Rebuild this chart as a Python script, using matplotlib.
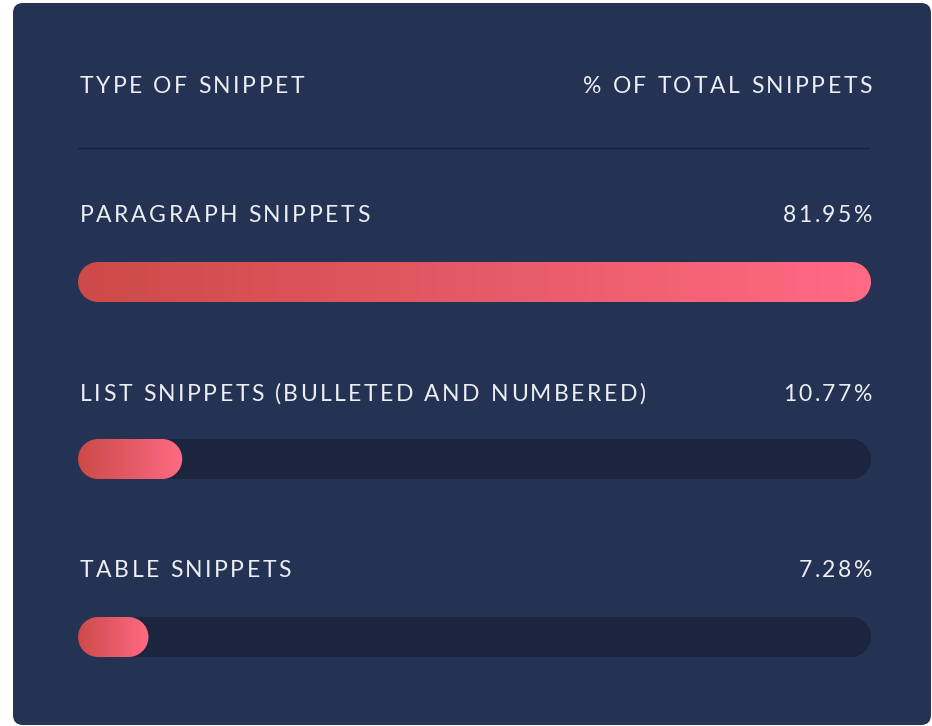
import numpy as np
import matplotlib.pyplot as plt
from matplotlib.patches import FancyBboxPatch, Polygon
from matplotlib.colors import LinearSegmentedColormap

# データ
header_left = 'TYPE OF SNIPPET'
header_right = '% OF TOTAL SNIPPETS'
categories = ['PARAGRAPH SNIPPETS', 'LIST SNIPPETS (BULLETED AND NUMBERED)', 'TABLE SNIPPETS']
shares = [81.95, 10.77, 7.28]
share_labels = ['81.95%', '10.77%', '7.28%']

W, H = 932, 726
CARD = '#243354'
TRACK = '#1b253e'
TXT = '#eceef2'
grad = LinearSegmentedColormap.from_list('snip', ['#cc4a48', '#ff6a84'])

plt.rcParams['font.family'] = ['Lato', 'DejaVu Sans']

fig = plt.figure(figsize=(W / 100, H / 100), dpi=100)
fig.patch.set_facecolor('white')
base = fig.add_axes([0, 0, 1, 1])
base.set_xlim(0, W)
base.set_ylim(H, 0)
base.axis('off')

# カード背景
base.add_patch(FancyBboxPatch((13, 3), 918, 722, boxstyle='round,pad=0,rounding_size=10',
                              fc=CARD, ec='none'))
base.plot([78, 868], [148, 148], color='#19223a', lw=1)

renderer = fig.canvas.get_renderer()


def text_w(s, size):
    t = base.text(0, 0, s, fontsize=size)
    w = t.get_window_extent(renderer).width
    t.remove()
    return w


def tracked(x, y, s, size=16.5, track=2.5, ha='left'):
    # 文字間隔を広げたテキスト
    ref = text_w('I', size)
    offs = [text_w(s[:i] + 'I', size) - ref if i else 0 for i in range(len(s))]
    total = text_w(s, size) + track * (len(s) - 1)
    x0 = x - total if ha == 'right' else x
    for i, ch in enumerate(s):
        if ch != ' ':
            base.text(x0 + offs[i] + track * i, y, ch, fontsize=size, color=TXT,
                      va='baseline', ha='left')


def stadium(length, h, **kw):
    # 両端が半円のバー
    r = h / 2
    t = np.linspace(np.pi / 2, 3 * np.pi / 2, 60)
    left = np.c_[r + r * np.cos(t), r + r * np.sin(t)]
    t = np.linspace(-np.pi / 2, np.pi / 2, 60)
    right = np.c_[length - r + r * np.cos(t), r + r * np.sin(t)]
    return Polygon(np.vstack([left, right]), closed=True, **kw)


tracked(80, 93, header_left)
tracked(872, 93, header_right, ha='right')

label_baselines = [222, 401, 577]
bar_tops = [262, 439, 617]
bar_h = 40
bar_w = 793
max_share = max(shares)
# x と y を同じ尺度にする
h_units = bar_h * max_share / bar_w

for cat, share, lab, yb, top in zip(categories, shares, share_labels, label_baselines, bar_tops):
    tracked(80, yb, cat)
    tracked(872, yb, lab, ha='right')

    ax = fig.add_axes([78 / W, 1 - (top + bar_h) / H, bar_w / W, bar_h / H])
    ax.add_patch(stadium(max_share, h_units, fc=TRACK, ec='none'))
    fill = stadium(share, h_units, fc='none', ec='none')
    ax.add_patch(fill)
    im = ax.imshow(np.linspace(0, 1, 256)[None, :], cmap=grad,
                   extent=(0, share, 0, h_units), aspect='auto',
                   interpolation='bilinear', zorder=3)
    im.set_clip_path(fill)
    ax.set_xlim(0, max_share)
    ax.set_ylim(0, h_units)
    ax.axis('off')

fig.savefig('out.png', dpi=100, facecolor='white')
